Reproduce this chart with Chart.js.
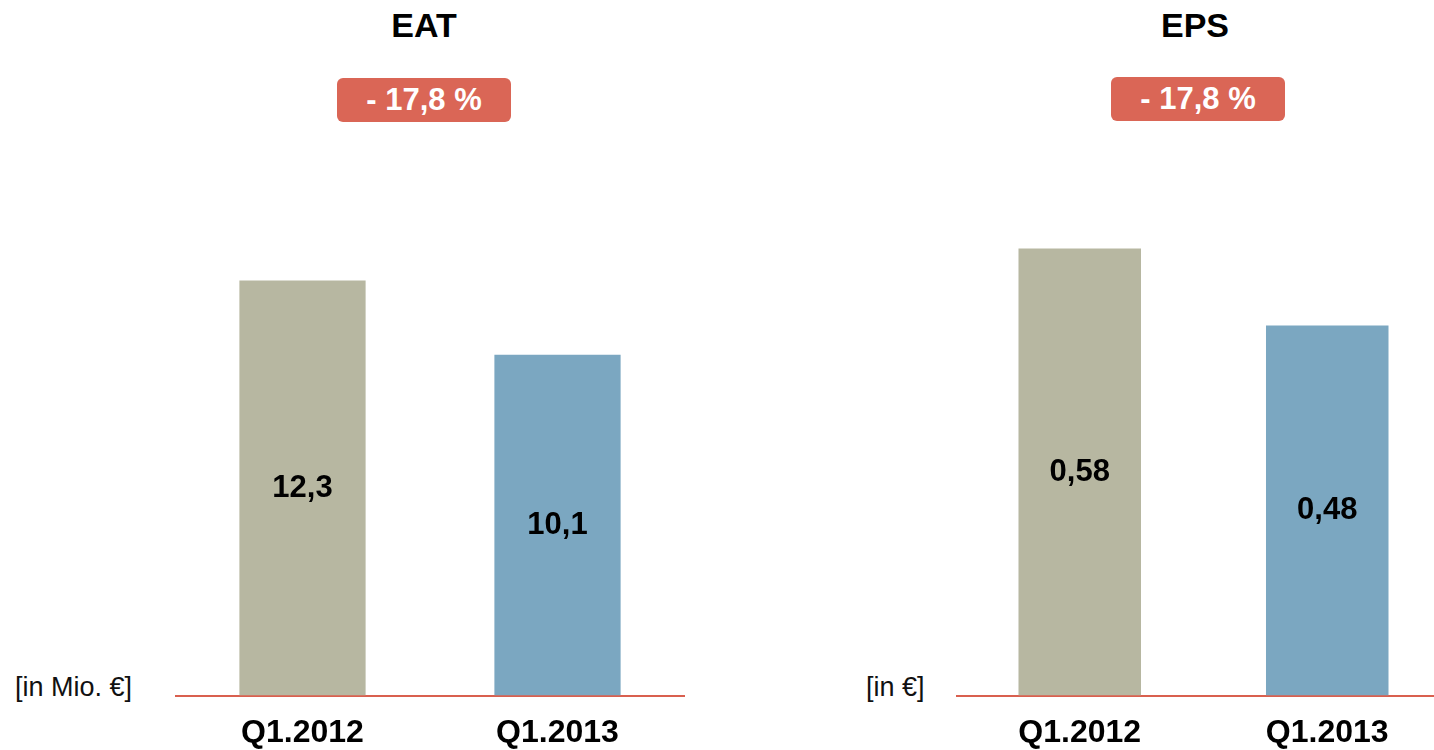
<!DOCTYPE html>
<html>
<head>
<meta charset="utf-8">
<script src="https://cdn.jsdelivr.net/npm/chart.js@4/dist/chart.umd.min.js"></script>
<style>
  html, body { margin: 0; padding: 0; background: #fff; overflow: hidden; }
  body { width: 1434px; height: 750px; position: relative; font-family: "Liberation Sans", Arial, sans-serif; }
  .title { position: absolute; top: 6px; width: 200px; text-align: center; font-weight: bold; font-size: 34px; color: #000; }
  .badge { position: absolute; height: 44px; line-height: 44px; background: #DA6656; color: #fff; border-radius: 6px;
           font-weight: bold; font-size: 31px; text-align: center; }
  .unit { position: absolute; top: 672px; font-size: 27px; color: #111; }
  .box { position: absolute; top: 0; height: 770px; }
</style>
</head>
<body>
<div class="title" style="left:324px">EAT</div>
<div class="badge" style="left:337px; top:78px; width:174px">- 17,8 %</div>
<div class="unit" style="left:15px">[in Mio. €]</div>
<div class="box" style="left:175px; width:510px"><canvas id="eatChart"></canvas></div>

<div class="title" style="left:1095px">EPS</div>
<div class="badge" style="left:1111px; top:77px; width:174px">- 17,8 %</div>
<div class="unit" style="left:866px">[in €]</div>
<div class="box" style="left:956px; width:495px"><canvas id="epsChart"></canvas></div>

<script>
    // Data
    var categories = ['Q1.2012', 'Q1.2013'];
    var eatValues = [12.3, 10.1];
    var epsValues = [0.58, 0.48];
    var eatLabels = ['12,3', '10,1'];
    var epsLabels = ['0,58', '0,48'];
    var barColors = ['#B7B7A1', '#7BA7C1'];

    var FONT = '"Liberation Sans", Arial, sans-serif';

    // writes the value in the middle of each bar
    var valueLabelPlugin = {
        id: 'valueLabels',
        afterDatasetsDraw: function(chart, args, opts) {
            var ctx = chart.ctx;
            var meta = chart.getDatasetMeta(0);
            ctx.save();
            ctx.font = 'bold 31px ' + FONT;
            ctx.fillStyle = '#000';
            ctx.textAlign = 'center';
            ctx.textBaseline = 'middle';
            meta.data.forEach(function(bar, i) {
                ctx.fillText(opts.labels[i], bar.x, (bar.y + bar.base) / 2);
            });
            ctx.restore();
        }
    };

    function _configChart(values, labels, yMax, topPad){
        return {
            type: 'bar',
            data: {
                labels: categories,
                datasets: [{
                    data: values,
                    backgroundColor: barColors,
                    borderWidth: 0,
                    barPercentage: 0.99,
                    categoryPercentage: 0.5
                }]
            },
            options: {
                responsive: true,
                maintainAspectRatio: false,
                animation: false,
                layout: { padding: { top: topPad, left: 0, right: 0, bottom: 0 } },
                plugins: {
                    legend: { display: false },
                    tooltip: { enabled: false },
                    valueLabels: { labels: labels }
                },
                scales: {
                    x: {
                        grid: { display: false, drawTicks: false },
                        border: { display: true, color: '#D9604F', width: 2 },
                        ticks: { color: '#000', padding: 18, font: { family: FONT, size: 32, weight: 'bold' } }
                    },
                    y: { display: false, min: 0, max: yMax }
                }
            },
            plugins: [valueLabelPlugin]
        };
    }

    new Chart(document.getElementById('eatChart'), _configChart(eatValues, eatLabels, 14, 223));
    new Chart(document.getElementById('epsChart'), _configChart(epsValues, epsLabels, 0.6, 233));
</script>
</body>
</html>
